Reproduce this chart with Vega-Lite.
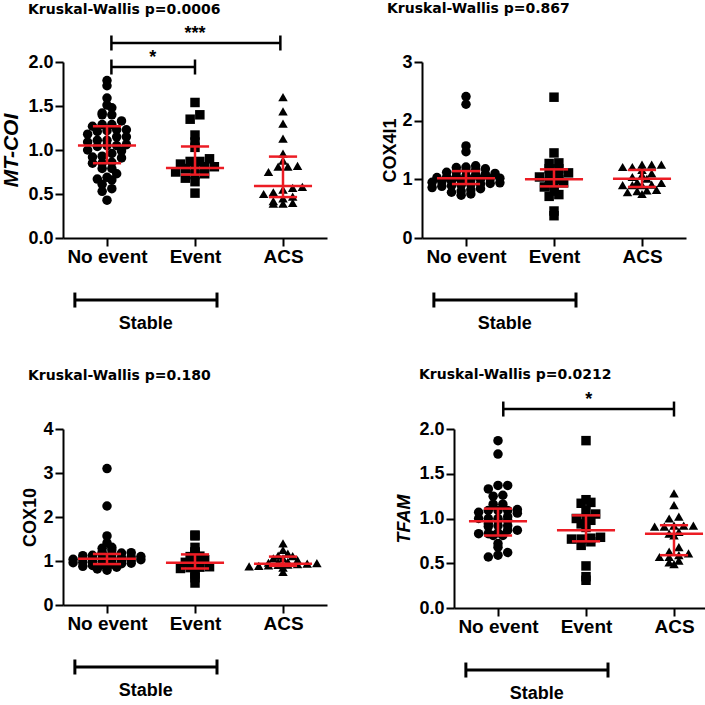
{
"$schema": "https://vega.github.io/schema/vega-lite/v6.json",
"padding": {"left": 0, "top": 2, "right": 0, "bottom": 0},
"background": "white",
"config": {
 "view": {"stroke": null},
 "font": "Liberation Sans",
 "axis": {"grid": false, "domainColor": "black", "domainWidth": 2, "tickColor": "black", "tickWidth": 2, "tickSize": 8, "labelColor": "black", "labelFont": "Liberation Sans", "labelFontWeight": "bold", "labelFontSize": 18, "titleColor": "black", "titleFont": "Liberation Sans", "titleFontWeight": "bold", "titleFontSize": 18, "labelPadding": 2, "titlePadding": 6},
 "axisX": {"labelFontSize": 19, "labelPadding": 1, "labelFlush": false},
 "title": {"font": "DejaVu Sans", "fontSize": 14, "fontWeight": "bold", "color": "black", "anchor": "start", "frame": "group", "dx": -35, "baseline": "bottom"},
 "text": {"font": "Liberation Sans", "fontWeight": "bold", "color": "black"}
},
"datasets": {
"pts": [
{"gene":"MT-COI","group":"No event","v":1.79},{"gene":"MT-COI","group":"No event","v":1.73},{"gene":"MT-COI","group":"No event","v":1.59},{"gene":"MT-COI","group":"No event","v":1.51},{"gene":"MT-COI","group":"No event","v":1.48},{"gene":"MT-COI","group":"No event","v":1.42},{"gene":"MT-COI","group":"No event","v":1.40},{"gene":"MT-COI","group":"No event","v":1.40},{"gene":"MT-COI","group":"No event","v":1.33},{"gene":"MT-COI","group":"No event","v":1.29},{"gene":"MT-COI","group":"No event","v":1.29},{"gene":"MT-COI","group":"No event","v":1.27},{"gene":"MT-COI","group":"No event","v":1.23},{"gene":"MT-COI","group":"No event","v":1.23},{"gene":"MT-COI","group":"No event","v":1.22},{"gene":"MT-COI","group":"No event","v":1.21},{"gene":"MT-COI","group":"No event","v":1.18},{"gene":"MT-COI","group":"No event","v":1.15},{"gene":"MT-COI","group":"No event","v":1.15},{"gene":"MT-COI","group":"No event","v":1.11},{"gene":"MT-COI","group":"No event","v":1.11},{"gene":"MT-COI","group":"No event","v":1.09},{"gene":"MT-COI","group":"No event","v":1.06},{"gene":"MT-COI","group":"No event","v":1.05},{"gene":"MT-COI","group":"No event","v":1.05},{"gene":"MT-COI","group":"No event","v":1.04},{"gene":"MT-COI","group":"No event","v":1.00},{"gene":"MT-COI","group":"No event","v":0.99},{"gene":"MT-COI","group":"No event","v":0.96},{"gene":"MT-COI","group":"No event","v":0.93},{"gene":"MT-COI","group":"No event","v":0.92},{"gene":"MT-COI","group":"No event","v":0.91},{"gene":"MT-COI","group":"No event","v":0.86},{"gene":"MT-COI","group":"No event","v":0.85},{"gene":"MT-COI","group":"No event","v":0.85},{"gene":"MT-COI","group":"No event","v":0.79},{"gene":"MT-COI","group":"No event","v":0.79},{"gene":"MT-COI","group":"No event","v":0.73},{"gene":"MT-COI","group":"No event","v":0.69},{"gene":"MT-COI","group":"No event","v":0.67},{"gene":"MT-COI","group":"No event","v":0.66},{"gene":"MT-COI","group":"No event","v":0.61},{"gene":"MT-COI","group":"No event","v":0.56},{"gene":"MT-COI","group":"No event","v":0.53},{"gene":"MT-COI","group":"No event","v":0.43},
{"gene":"MT-COI","group":"Event","v":1.54},{"gene":"MT-COI","group":"Event","v":1.40},{"gene":"MT-COI","group":"Event","v":1.35},{"gene":"MT-COI","group":"Event","v":1.17},{"gene":"MT-COI","group":"Event","v":1.09},{"gene":"MT-COI","group":"Event","v":1.03},{"gene":"MT-COI","group":"Event","v":0.90},{"gene":"MT-COI","group":"Event","v":0.87},{"gene":"MT-COI","group":"Event","v":0.87},{"gene":"MT-COI","group":"Event","v":0.84},{"gene":"MT-COI","group":"Event","v":0.81},{"gene":"MT-COI","group":"Event","v":0.81},{"gene":"MT-COI","group":"Event","v":0.79},{"gene":"MT-COI","group":"Event","v":0.79},{"gene":"MT-COI","group":"Event","v":0.75},{"gene":"MT-COI","group":"Event","v":0.73},{"gene":"MT-COI","group":"Event","v":0.72},{"gene":"MT-COI","group":"Event","v":0.68},{"gene":"MT-COI","group":"Event","v":0.64},{"gene":"MT-COI","group":"Event","v":0.51},
{"gene":"MT-COI","group":"ACS","v":1.60},{"gene":"MT-COI","group":"ACS","v":1.44},{"gene":"MT-COI","group":"ACS","v":1.30},{"gene":"MT-COI","group":"ACS","v":1.13},{"gene":"MT-COI","group":"ACS","v":0.96},{"gene":"MT-COI","group":"ACS","v":0.88},{"gene":"MT-COI","group":"ACS","v":0.82},{"gene":"MT-COI","group":"ACS","v":0.81},{"gene":"MT-COI","group":"ACS","v":0.81},{"gene":"MT-COI","group":"ACS","v":0.75},{"gene":"MT-COI","group":"ACS","v":0.58},{"gene":"MT-COI","group":"ACS","v":0.57},{"gene":"MT-COI","group":"ACS","v":0.55},{"gene":"MT-COI","group":"ACS","v":0.52},{"gene":"MT-COI","group":"ACS","v":0.50},{"gene":"MT-COI","group":"ACS","v":0.47},{"gene":"MT-COI","group":"ACS","v":0.45},{"gene":"MT-COI","group":"ACS","v":0.42},{"gene":"MT-COI","group":"ACS","v":0.40},{"gene":"MT-COI","group":"ACS","v":0.39},{"gene":"MT-COI","group":"ACS","v":0.39},
{"gene":"COX4I1","group":"No event","v":2.41},{"gene":"COX4I1","group":"No event","v":2.28},{"gene":"COX4I1","group":"No event","v":1.57},{"gene":"COX4I1","group":"No event","v":1.47},{"gene":"COX4I1","group":"No event","v":1.23},{"gene":"COX4I1","group":"No event","v":1.21},{"gene":"COX4I1","group":"No event","v":1.20},{"gene":"COX4I1","group":"No event","v":1.18},{"gene":"COX4I1","group":"No event","v":1.16},{"gene":"COX4I1","group":"No event","v":1.15},{"gene":"COX4I1","group":"No event","v":1.13},{"gene":"COX4I1","group":"No event","v":1.12},{"gene":"COX4I1","group":"No event","v":1.10},{"gene":"COX4I1","group":"No event","v":1.09},{"gene":"COX4I1","group":"No event","v":1.08},{"gene":"COX4I1","group":"No event","v":1.06},{"gene":"COX4I1","group":"No event","v":1.05},{"gene":"COX4I1","group":"No event","v":1.04},{"gene":"COX4I1","group":"No event","v":1.03},{"gene":"COX4I1","group":"No event","v":1.02},{"gene":"COX4I1","group":"No event","v":1.01},{"gene":"COX4I1","group":"No event","v":1.00},{"gene":"COX4I1","group":"No event","v":0.99},{"gene":"COX4I1","group":"No event","v":0.98},{"gene":"COX4I1","group":"No event","v":0.97},{"gene":"COX4I1","group":"No event","v":0.96},{"gene":"COX4I1","group":"No event","v":0.95},{"gene":"COX4I1","group":"No event","v":0.94},{"gene":"COX4I1","group":"No event","v":0.93},{"gene":"COX4I1","group":"No event","v":0.92},{"gene":"COX4I1","group":"No event","v":0.91},{"gene":"COX4I1","group":"No event","v":0.90},{"gene":"COX4I1","group":"No event","v":0.89},{"gene":"COX4I1","group":"No event","v":0.88},{"gene":"COX4I1","group":"No event","v":0.86},{"gene":"COX4I1","group":"No event","v":0.84},{"gene":"COX4I1","group":"No event","v":0.82},{"gene":"COX4I1","group":"No event","v":0.80},{"gene":"COX4I1","group":"No event","v":0.78},{"gene":"COX4I1","group":"No event","v":0.75},{"gene":"COX4I1","group":"No event","v":0.73},
{"gene":"COX4I1","group":"Event","v":2.40},{"gene":"COX4I1","group":"Event","v":1.45},{"gene":"COX4I1","group":"Event","v":1.28},{"gene":"COX4I1","group":"Event","v":1.27},{"gene":"COX4I1","group":"Event","v":1.18},{"gene":"COX4I1","group":"Event","v":1.18},{"gene":"COX4I1","group":"Event","v":1.11},{"gene":"COX4I1","group":"Event","v":1.10},{"gene":"COX4I1","group":"Event","v":1.05},{"gene":"COX4I1","group":"Event","v":1.04},{"gene":"COX4I1","group":"Event","v":1.00},{"gene":"COX4I1","group":"Event","v":0.95},{"gene":"COX4I1","group":"Event","v":0.94},{"gene":"COX4I1","group":"Event","v":0.89},{"gene":"COX4I1","group":"Event","v":0.87},{"gene":"COX4I1","group":"Event","v":0.80},{"gene":"COX4I1","group":"Event","v":0.74},{"gene":"COX4I1","group":"Event","v":0.71},{"gene":"COX4I1","group":"Event","v":0.46},{"gene":"COX4I1","group":"Event","v":0.38},
{"gene":"COX4I1","group":"ACS","v":1.25},{"gene":"COX4I1","group":"ACS","v":1.25},{"gene":"COX4I1","group":"ACS","v":1.25},{"gene":"COX4I1","group":"ACS","v":1.21},{"gene":"COX4I1","group":"ACS","v":1.21},{"gene":"COX4I1","group":"ACS","v":1.16},{"gene":"COX4I1","group":"ACS","v":1.10},{"gene":"COX4I1","group":"ACS","v":1.07},{"gene":"COX4I1","group":"ACS","v":1.04},{"gene":"COX4I1","group":"ACS","v":1.01},{"gene":"COX4I1","group":"ACS","v":0.95},{"gene":"COX4I1","group":"ACS","v":0.94},{"gene":"COX4I1","group":"ACS","v":0.91},{"gene":"COX4I1","group":"ACS","v":0.90},{"gene":"COX4I1","group":"ACS","v":0.90},{"gene":"COX4I1","group":"ACS","v":0.90},{"gene":"COX4I1","group":"ACS","v":0.82},{"gene":"COX4I1","group":"ACS","v":0.81},{"gene":"COX4I1","group":"ACS","v":0.80},{"gene":"COX4I1","group":"ACS","v":0.78},{"gene":"COX4I1","group":"ACS","v":0.75},
{"gene":"COX10","group":"No event","v":3.10},{"gene":"COX10","group":"No event","v":2.25},{"gene":"COX10","group":"No event","v":1.57},{"gene":"COX10","group":"No event","v":1.41},{"gene":"COX10","group":"No event","v":1.31},{"gene":"COX10","group":"No event","v":1.29},{"gene":"COX10","group":"No event","v":1.25},{"gene":"COX10","group":"No event","v":1.20},{"gene":"COX10","group":"No event","v":1.19},{"gene":"COX10","group":"No event","v":1.18},{"gene":"COX10","group":"No event","v":1.16},{"gene":"COX10","group":"No event","v":1.15},{"gene":"COX10","group":"No event","v":1.13},{"gene":"COX10","group":"No event","v":1.12},{"gene":"COX10","group":"No event","v":1.10},{"gene":"COX10","group":"No event","v":1.09},{"gene":"COX10","group":"No event","v":1.08},{"gene":"COX10","group":"No event","v":1.07},{"gene":"COX10","group":"No event","v":1.06},{"gene":"COX10","group":"No event","v":1.05},{"gene":"COX10","group":"No event","v":1.05},{"gene":"COX10","group":"No event","v":1.04},{"gene":"COX10","group":"No event","v":1.03},{"gene":"COX10","group":"No event","v":1.02},{"gene":"COX10","group":"No event","v":1.01},{"gene":"COX10","group":"No event","v":1.00},{"gene":"COX10","group":"No event","v":0.99},{"gene":"COX10","group":"No event","v":0.98},{"gene":"COX10","group":"No event","v":0.97},{"gene":"COX10","group":"No event","v":0.96},{"gene":"COX10","group":"No event","v":0.95},{"gene":"COX10","group":"No event","v":0.94},{"gene":"COX10","group":"No event","v":0.93},{"gene":"COX10","group":"No event","v":0.92},{"gene":"COX10","group":"No event","v":0.90},{"gene":"COX10","group":"No event","v":0.88},{"gene":"COX10","group":"No event","v":0.86},{"gene":"COX10","group":"No event","v":0.84},{"gene":"COX10","group":"No event","v":0.82},{"gene":"COX10","group":"No event","v":0.79},
{"gene":"COX10","group":"Event","v":1.59},{"gene":"COX10","group":"Event","v":1.57},{"gene":"COX10","group":"Event","v":1.31},{"gene":"COX10","group":"Event","v":1.21},{"gene":"COX10","group":"Event","v":1.19},{"gene":"COX10","group":"Event","v":1.11},{"gene":"COX10","group":"Event","v":1.10},{"gene":"COX10","group":"Event","v":1.03},{"gene":"COX10","group":"Event","v":0.98},{"gene":"COX10","group":"Event","v":0.97},{"gene":"COX10","group":"Event","v":0.95},{"gene":"COX10","group":"Event","v":0.91},{"gene":"COX10","group":"Event","v":0.87},{"gene":"COX10","group":"Event","v":0.86},{"gene":"COX10","group":"Event","v":0.85},{"gene":"COX10","group":"Event","v":0.83},{"gene":"COX10","group":"Event","v":0.72},{"gene":"COX10","group":"Event","v":0.70},{"gene":"COX10","group":"Event","v":0.62},{"gene":"COX10","group":"Event","v":0.50},
{"gene":"COX10","group":"ACS","v":1.40},{"gene":"COX10","group":"ACS","v":1.25},{"gene":"COX10","group":"ACS","v":1.17},{"gene":"COX10","group":"ACS","v":1.12},{"gene":"COX10","group":"ACS","v":1.11},{"gene":"COX10","group":"ACS","v":1.06},{"gene":"COX10","group":"ACS","v":1.06},{"gene":"COX10","group":"ACS","v":1.02},{"gene":"COX10","group":"ACS","v":0.98},{"gene":"COX10","group":"ACS","v":0.97},{"gene":"COX10","group":"ACS","v":0.96},{"gene":"COX10","group":"ACS","v":0.95},{"gene":"COX10","group":"ACS","v":0.94},{"gene":"COX10","group":"ACS","v":0.93},{"gene":"COX10","group":"ACS","v":0.92},{"gene":"COX10","group":"ACS","v":0.91},{"gene":"COX10","group":"ACS","v":0.90},{"gene":"COX10","group":"ACS","v":0.89},{"gene":"COX10","group":"ACS","v":0.88},{"gene":"COX10","group":"ACS","v":0.85},{"gene":"COX10","group":"ACS","v":0.75},
{"gene":"TFAM","group":"No event","v":1.87},{"gene":"TFAM","group":"No event","v":1.72},{"gene":"TFAM","group":"No event","v":1.37},{"gene":"TFAM","group":"No event","v":1.37},{"gene":"TFAM","group":"No event","v":1.33},{"gene":"TFAM","group":"No event","v":1.26},{"gene":"TFAM","group":"No event","v":1.25},{"gene":"TFAM","group":"No event","v":1.16},{"gene":"TFAM","group":"No event","v":1.16},{"gene":"TFAM","group":"No event","v":1.10},{"gene":"TFAM","group":"No event","v":1.09},{"gene":"TFAM","group":"No event","v":1.09},{"gene":"TFAM","group":"No event","v":1.09},{"gene":"TFAM","group":"No event","v":1.07},{"gene":"TFAM","group":"No event","v":1.06},{"gene":"TFAM","group":"No event","v":1.02},{"gene":"TFAM","group":"No event","v":1.00},{"gene":"TFAM","group":"No event","v":1.00},{"gene":"TFAM","group":"No event","v":1.00},{"gene":"TFAM","group":"No event","v":0.98},{"gene":"TFAM","group":"No event","v":0.98},{"gene":"TFAM","group":"No event","v":0.94},{"gene":"TFAM","group":"No event","v":0.92},{"gene":"TFAM","group":"No event","v":0.92},{"gene":"TFAM","group":"No event","v":0.91},{"gene":"TFAM","group":"No event","v":0.87},{"gene":"TFAM","group":"No event","v":0.87},{"gene":"TFAM","group":"No event","v":0.84},{"gene":"TFAM","group":"No event","v":0.83},{"gene":"TFAM","group":"No event","v":0.83},{"gene":"TFAM","group":"No event","v":0.81},{"gene":"TFAM","group":"No event","v":0.81},{"gene":"TFAM","group":"No event","v":0.72},{"gene":"TFAM","group":"No event","v":0.68},{"gene":"TFAM","group":"No event","v":0.62},{"gene":"TFAM","group":"No event","v":0.59},{"gene":"TFAM","group":"No event","v":0.57},
{"gene":"TFAM","group":"Event","v":1.87},{"gene":"TFAM","group":"Event","v":1.21},{"gene":"TFAM","group":"Event","v":1.18},{"gene":"TFAM","group":"Event","v":1.17},{"gene":"TFAM","group":"Event","v":1.09},{"gene":"TFAM","group":"Event","v":1.05},{"gene":"TFAM","group":"Event","v":1.00},{"gene":"TFAM","group":"Event","v":1.00},{"gene":"TFAM","group":"Event","v":0.98},{"gene":"TFAM","group":"Event","v":0.94},{"gene":"TFAM","group":"Event","v":0.90},{"gene":"TFAM","group":"Event","v":0.79},{"gene":"TFAM","group":"Event","v":0.78},{"gene":"TFAM","group":"Event","v":0.77},{"gene":"TFAM","group":"Event","v":0.77},{"gene":"TFAM","group":"Event","v":0.74},{"gene":"TFAM","group":"Event","v":0.70},{"gene":"TFAM","group":"Event","v":0.47},{"gene":"TFAM","group":"Event","v":0.35},{"gene":"TFAM","group":"Event","v":0.31},
{"gene":"TFAM","group":"ACS","v":1.28},{"gene":"TFAM","group":"ACS","v":1.15},{"gene":"TFAM","group":"ACS","v":1.02},{"gene":"TFAM","group":"ACS","v":1.00},{"gene":"TFAM","group":"ACS","v":0.92},{"gene":"TFAM","group":"ACS","v":0.92},{"gene":"TFAM","group":"ACS","v":0.92},{"gene":"TFAM","group":"ACS","v":0.91},{"gene":"TFAM","group":"ACS","v":0.91},{"gene":"TFAM","group":"ACS","v":0.85},{"gene":"TFAM","group":"ACS","v":0.83},{"gene":"TFAM","group":"ACS","v":0.81},{"gene":"TFAM","group":"ACS","v":0.68},{"gene":"TFAM","group":"ACS","v":0.63},{"gene":"TFAM","group":"ACS","v":0.61},{"gene":"TFAM","group":"ACS","v":0.59},{"gene":"TFAM","group":"ACS","v":0.57},{"gene":"TFAM","group":"ACS","v":0.57},{"gene":"TFAM","group":"ACS","v":0.53},{"gene":"TFAM","group":"ACS","v":0.51},{"gene":"TFAM","group":"ACS","v":0.49}
],
"stats": [
{"gene":"MT-COI","group":"No event","med":1.05,"q1":0.85,"q3":1.27},
{"gene":"MT-COI","group":"Event","med":0.795,"q1":0.72,"q3":1.04},
{"gene":"MT-COI","group":"ACS","med":0.59,"q1":0.465,"q3":0.925},
{"gene":"COX4I1","group":"No event","med":1.02,"q1":0.92,"q3":1.14},
{"gene":"COX4I1","group":"Event","med":1.0,"q1":0.88,"q3":1.17},
{"gene":"COX4I1","group":"ACS","med":1.01,"q1":0.87,"q3":1.16},
{"gene":"COX10","group":"No event","med":1.05,"q1":0.93,"q3":1.16},
{"gene":"COX10","group":"Event","med":0.96,"q1":0.83,"q3":1.15},
{"gene":"COX10","group":"ACS","med":0.94,"q1":0.89,"q3":1.10},
{"gene":"TFAM","group":"No event","med":0.97,"q1":0.81,"q3":1.11},
{"gene":"TFAM","group":"Event","med":0.87,"q1":0.745,"q3":1.035},
{"gene":"TFAM","group":"ACS","med":0.83,"q1":0.59,"q3":0.925}
]
},
"spacing": 34,
"vconcat": [
{"hconcat": [
{"width": 264, "height": 176,
 "title": {"text": "Kruskal-Wallis p=0.0006", "offset": 8},
 "layer": [
  {"data": {"name": "pts"},
   "transform": [{"filter": "datum.gene === 'MT-COI'"},
    {"calculate": "indexof(['No event','Event','ACS'], datum.group) + 1", "as": "gi"},
    {"calculate": "floor(datum.v * 12)", "as": "bin"},
    {"window": [{"op": "row_number", "as": "r"}, {"op": "count", "as": "n"}], "groupby": ["group", "bin"], "sort": [{"field": "v"}], "frame": [null, null]},
    {"calculate": "datum.gi + (datum.r - (datum.n + 1) / 2) * 0.11", "as": "xp"}],
   "mark": {"type": "point", "filled": true, "size": 90, "opacity": 1, "color": "black"},
   "encoding": {
    "x": {"field": "xp", "type": "quantitative", "scale": {"domain": [0.5, 3.5], "nice": false, "zero": false}, "axis": {"values": [1, 2, 3], "labelExpr": "datum.value == 1 ? 'No event' : datum.value == 2 ? 'Event' : 'ACS'", "title": null}},
    "y": {"field": "v", "type": "quantitative", "scale": {"domain": [0, 2], "nice": false}, "axis": {"values": [0, 0.5, 1, 1.5, 2], "format": ".1f", "title": "MT-COI", "titleFontStyle": "italic", "titleFontSize": 21, "titleX": -42}},
    "shape": {"field": "group", "type": "nominal", "scale": {"domain": ["No event", "Event", "ACS"], "range": ["circle", "square", "triangle-up"]}, "legend": null}}},
  {"data": {"name": "stats"},
   "transform": [{"filter": "datum.gene === 'MT-COI'"}, {"calculate": "indexof(['No event','Event','ACS'], datum.group) + 1", "as": "gi"}],
   "layer": [
    {"transform": [{"calculate": "datum.gi - 0.33", "as": "xa"}, {"calculate": "datum.gi + 0.33", "as": "xb"}],
     "mark": {"type": "rule", "color": "#ec1c24", "strokeWidth": 2.5},
     "encoding": {"x": {"field": "xa", "type": "quantitative", "title": null}, "x2": {"field": "xb"}, "y": {"field": "med", "type": "quantitative"}}},
    {"mark": {"type": "rule", "color": "#ec1c24", "strokeWidth": 2.5},
     "encoding": {"x": {"field": "gi", "type": "quantitative", "title": null}, "y": {"field": "q1", "type": "quantitative"}, "y2": {"field": "q3"}}},
    {"transform": [{"fold": ["q1", "q3"], "as": ["k", "yv"]}, {"calculate": "datum.gi - 0.16", "as": "ca"}, {"calculate": "datum.gi + 0.16", "as": "cb"}],
     "mark": {"type": "rule", "color": "#ec1c24", "strokeWidth": 2.5},
     "encoding": {"x": {"field": "ca", "type": "quantitative", "title": null}, "x2": {"field": "cb"}, "y": {"field": "yv", "type": "quantitative"}}}
   ]},
  {"data": {"values": [{}]},
   "layer": [
    {"mark": {"type": "rule", "color": "black", "strokeWidth": 2.5}, "encoding": {"x": {"datum": 1.05, "type": "quantitative"}, "x2": {"datum": 2.97}, "y": {"datum": 2.216, "type": "quantitative"}}},
    {"mark": {"type": "tick", "orient": "vertical", "size": 15, "thickness": 2.5, "color": "black", "opacity": 1}, "encoding": {"x": {"datum": 1.05, "type": "quantitative"}, "y": {"datum": 2.216, "type": "quantitative"}}},
    {"mark": {"type": "tick", "orient": "vertical", "size": 15, "thickness": 2.5, "color": "black", "opacity": 1}, "encoding": {"x": {"datum": 2.97, "type": "quantitative"}, "y": {"datum": 2.216, "type": "quantitative"}}},
    {"mark": {"type": "text", "fontSize": 18, "baseline": "alphabetic", "align": "center", "dy": -4}, "encoding": {"x": {"datum": 2.0, "type": "quantitative"}, "y": {"datum": 2.216, "type": "quantitative"}, "text": {"value": "***"}}},
    {"mark": {"type": "rule", "color": "black", "strokeWidth": 2.5}, "encoding": {"x": {"datum": 1.05, "type": "quantitative"}, "x2": {"datum": 2.0}, "y": {"datum": 1.943, "type": "quantitative"}}},
    {"mark": {"type": "tick", "orient": "vertical", "size": 15, "thickness": 2.5, "color": "black", "opacity": 1}, "encoding": {"x": {"datum": 1.05, "type": "quantitative"}, "y": {"datum": 1.943, "type": "quantitative"}}},
    {"mark": {"type": "tick", "orient": "vertical", "size": 15, "thickness": 2.5, "color": "black", "opacity": 1}, "encoding": {"x": {"datum": 2.0, "type": "quantitative"}, "y": {"datum": 1.943, "type": "quantitative"}}},
    {"mark": {"type": "text", "fontSize": 18, "baseline": "alphabetic", "align": "center", "dy": -4}, "encoding": {"x": {"datum": 1.52, "type": "quantitative"}, "y": {"datum": 1.943, "type": "quantitative"}, "text": {"value": "*"}}},
    {"mark": {"type": "rule", "color": "black", "strokeWidth": 3}, "encoding": {"x": {"datum": 0.635, "type": "quantitative"}, "x2": {"datum": 2.25}, "y": {"datum": -0.705, "type": "quantitative"}}},
    {"mark": {"type": "tick", "orient": "vertical", "size": 15, "thickness": 3, "color": "black", "opacity": 1}, "encoding": {"x": {"datum": 0.635, "type": "quantitative"}, "y": {"datum": -0.705, "type": "quantitative"}}},
    {"mark": {"type": "tick", "orient": "vertical", "size": 15, "thickness": 3, "color": "black", "opacity": 1}, "encoding": {"x": {"datum": 2.25, "type": "quantitative"}, "y": {"datum": -0.705, "type": "quantitative"}}},
    {"mark": {"type": "text", "fontSize": 18, "baseline": "middle", "align": "center"}, "encoding": {"x": {"datum": 1.44, "type": "quantitative"}, "y": {"datum": -0.977, "type": "quantitative"}, "text": {"value": "Stable"}}}
   ]}
 ]},
{"width": 264, "height": 176,
 "title": {"text": "Kruskal-Wallis p=0.867", "offset": 37},
 "layer": [
  {"data": {"name": "pts"},
   "transform": [{"filter": "datum.gene === 'COX4I1'"},
    {"calculate": "indexof(['No event','Event','ACS'], datum.group) + 1", "as": "gi"},
    {"calculate": "floor(datum.v * 11.7)", "as": "bin"},
    {"window": [{"op": "row_number", "as": "r"}, {"op": "count", "as": "n"}], "groupby": ["group", "bin"], "sort": [{"field": "v"}], "frame": [null, null]},
    {"calculate": "datum.gi + (datum.r - (datum.n + 1) / 2) * 0.11", "as": "xp"}],
   "mark": {"type": "point", "filled": true, "size": 90, "opacity": 1, "color": "black"},
   "encoding": {
    "x": {"field": "xp", "type": "quantitative", "scale": {"domain": [0.5, 3.5], "nice": false, "zero": false}, "axis": {"values": [1, 2, 3], "labelExpr": "datum.value == 1 ? 'No event' : datum.value == 2 ? 'Event' : 'ACS'", "title": null}},
    "y": {"field": "v", "type": "quantitative", "scale": {"domain": [0, 3], "nice": false}, "axis": {"values": [0, 1, 2, 3], "format": "d", "title": "COX4I1", "titleX": -23}},
    "shape": {"field": "group", "type": "nominal", "scale": {"domain": ["No event", "Event", "ACS"], "range": ["circle", "square", "triangle-up"]}, "legend": null}}},
  {"data": {"name": "stats"},
   "transform": [{"filter": "datum.gene === 'COX4I1'"}, {"calculate": "indexof(['No event','Event','ACS'], datum.group) + 1", "as": "gi"}],
   "layer": [
    {"transform": [{"calculate": "datum.gi - 0.33", "as": "xa"}, {"calculate": "datum.gi + 0.33", "as": "xb"}],
     "mark": {"type": "rule", "color": "#ec1c24", "strokeWidth": 2.5},
     "encoding": {"x": {"field": "xa", "type": "quantitative", "title": null}, "x2": {"field": "xb"}, "y": {"field": "med", "type": "quantitative"}}},
    {"mark": {"type": "rule", "color": "#ec1c24", "strokeWidth": 2.5},
     "encoding": {"x": {"field": "gi", "type": "quantitative", "title": null}, "y": {"field": "q1", "type": "quantitative"}, "y2": {"field": "q3"}}},
    {"transform": [{"fold": ["q1", "q3"], "as": ["k", "yv"]}, {"calculate": "datum.gi - 0.16", "as": "ca"}, {"calculate": "datum.gi + 0.16", "as": "cb"}],
     "mark": {"type": "rule", "color": "#ec1c24", "strokeWidth": 2.5},
     "encoding": {"x": {"field": "ca", "type": "quantitative", "title": null}, "x2": {"field": "cb"}, "y": {"field": "yv", "type": "quantitative"}}}
   ]},
  {"data": {"values": [{}]},
   "layer": [
    {"mark": {"type": "rule", "color": "black", "strokeWidth": 3}, "encoding": {"x": {"datum": 0.635, "type": "quantitative"}, "x2": {"datum": 2.25}, "y": {"datum": -1.057, "type": "quantitative"}}},
    {"mark": {"type": "tick", "orient": "vertical", "size": 15, "thickness": 3, "color": "black", "opacity": 1}, "encoding": {"x": {"datum": 0.635, "type": "quantitative"}, "y": {"datum": -1.057, "type": "quantitative"}}},
    {"mark": {"type": "tick", "orient": "vertical", "size": 15, "thickness": 3, "color": "black", "opacity": 1}, "encoding": {"x": {"datum": 2.25, "type": "quantitative"}, "y": {"datum": -1.057, "type": "quantitative"}}},
    {"mark": {"type": "text", "fontSize": 18, "baseline": "middle", "align": "center"}, "encoding": {"x": {"datum": 1.44, "type": "quantitative"}, "y": {"datum": -1.466, "type": "quantitative"}, "text": {"value": "Stable"}}}
   ]}
 ]}
], "spacing": 54},
{"hconcat": [
{"vconcat": [
{"width": 264, "height": 176,
 "title": {"text": "Kruskal-Wallis p=0.180", "offset": 37},
 "layer": [
  {"data": {"name": "pts"},
   "transform": [{"filter": "datum.gene === 'COX10'"},
    {"calculate": "indexof(['No event','Event','ACS'], datum.group) + 1", "as": "gi"},
    {"calculate": "floor(datum.v * 12.6)", "as": "bin"},
    {"window": [{"op": "row_number", "as": "r"}, {"op": "count", "as": "n"}], "groupby": ["group", "bin"], "sort": [{"field": "v"}], "frame": [null, null]},
    {"calculate": "datum.gi + (datum.r - (datum.n + 1) / 2) * 0.11", "as": "xp"}],
   "mark": {"type": "point", "filled": true, "size": 90, "opacity": 1, "color": "black"},
   "encoding": {
    "x": {"field": "xp", "type": "quantitative", "scale": {"domain": [0.5, 3.5], "nice": false, "zero": false}, "axis": {"values": [1, 2, 3], "labelExpr": "datum.value == 1 ? 'No event' : datum.value == 2 ? 'Event' : 'ACS'", "title": null}},
    "y": {"field": "v", "type": "quantitative", "scale": {"domain": [0, 4], "nice": false}, "axis": {"values": [0, 1, 2, 3, 4], "format": "d", "title": "COX10", "titleX": -24}},
    "shape": {"field": "group", "type": "nominal", "scale": {"domain": ["No event", "Event", "ACS"], "range": ["circle", "square", "triangle-up"]}, "legend": null}}},
  {"data": {"name": "stats"},
   "transform": [{"filter": "datum.gene === 'COX10'"}, {"calculate": "indexof(['No event','Event','ACS'], datum.group) + 1", "as": "gi"}],
   "layer": [
    {"transform": [{"calculate": "datum.gi - 0.33", "as": "xa"}, {"calculate": "datum.gi + 0.33", "as": "xb"}],
     "mark": {"type": "rule", "color": "#ec1c24", "strokeWidth": 2.5},
     "encoding": {"x": {"field": "xa", "type": "quantitative", "title": null}, "x2": {"field": "xb"}, "y": {"field": "med", "type": "quantitative"}}},
    {"mark": {"type": "rule", "color": "#ec1c24", "strokeWidth": 2.5},
     "encoding": {"x": {"field": "gi", "type": "quantitative", "title": null}, "y": {"field": "q1", "type": "quantitative"}, "y2": {"field": "q3"}}},
    {"transform": [{"fold": ["q1", "q3"], "as": ["k", "yv"]}, {"calculate": "datum.gi - 0.16", "as": "ca"}, {"calculate": "datum.gi + 0.16", "as": "cb"}],
     "mark": {"type": "rule", "color": "#ec1c24", "strokeWidth": 2.5},
     "encoding": {"x": {"field": "ca", "type": "quantitative", "title": null}, "x2": {"field": "cb"}, "y": {"field": "yv", "type": "quantitative"}}}
   ]},
  {"data": {"values": [{}]},
   "layer": [
    {"mark": {"type": "rule", "color": "black", "strokeWidth": 3}, "encoding": {"x": {"datum": 0.635, "type": "quantitative"}, "x2": {"datum": 2.25}, "y": {"datum": -1.409, "type": "quantitative"}}},
    {"mark": {"type": "tick", "orient": "vertical", "size": 15, "thickness": 3, "color": "black", "opacity": 1}, "encoding": {"x": {"datum": 0.635, "type": "quantitative"}, "y": {"datum": -1.409, "type": "quantitative"}}},
    {"mark": {"type": "tick", "orient": "vertical", "size": 15, "thickness": 3, "color": "black", "opacity": 1}, "encoding": {"x": {"datum": 2.25, "type": "quantitative"}, "y": {"datum": -1.409, "type": "quantitative"}}},
    {"mark": {"type": "text", "fontSize": 18, "baseline": "middle", "align": "center"}, "encoding": {"x": {"datum": 1.44, "type": "quantitative"}, "y": {"datum": -1.955, "type": "quantitative"}, "text": {"value": "Stable"}}}
   ]}
 ]}
]},
{"vconcat": [
{"width": 264, "height": 179,
 "title": {"text": "Kruskal-Wallis p=0.0212", "offset": 9},
 "layer": [
  {"data": {"name": "pts"},
   "transform": [{"filter": "datum.gene === 'TFAM'"},
    {"calculate": "indexof(['No event','Event','ACS'], datum.group) + 1", "as": "gi"},
    {"calculate": "floor(datum.v * 16)", "as": "bin"},
    {"window": [{"op": "row_number", "as": "r"}, {"op": "count", "as": "n"}], "groupby": ["group", "bin"], "sort": [{"field": "v"}], "frame": [null, null]},
    {"calculate": "datum.gi + (datum.r - (datum.n + 1) / 2) * 0.11", "as": "xp"}],
   "mark": {"type": "point", "filled": true, "size": 90, "opacity": 1, "color": "black"},
   "encoding": {
    "x": {"field": "xp", "type": "quantitative", "scale": {"domain": [0.5, 3.5], "nice": false, "zero": false}, "axis": {"values": [1, 2, 3], "labelExpr": "datum.value == 1 ? 'No event' : datum.value == 2 ? 'Event' : 'ACS'", "title": null}},
    "y": {"field": "v", "type": "quantitative", "scale": {"domain": [0, 2], "nice": false}, "axis": {"values": [0, 0.5, 1, 1.5, 2], "format": ".1f", "title": "TFAM", "titleFontStyle": "italic", "titleX": -41}},
    "shape": {"field": "group", "type": "nominal", "scale": {"domain": ["No event", "Event", "ACS"], "range": ["circle", "square", "triangle-up"]}, "legend": null}}},
  {"data": {"name": "stats"},
   "transform": [{"filter": "datum.gene === 'TFAM'"}, {"calculate": "indexof(['No event','Event','ACS'], datum.group) + 1", "as": "gi"}],
   "layer": [
    {"transform": [{"calculate": "datum.gi - 0.33", "as": "xa"}, {"calculate": "datum.gi + 0.33", "as": "xb"}],
     "mark": {"type": "rule", "color": "#ec1c24", "strokeWidth": 2.5},
     "encoding": {"x": {"field": "xa", "type": "quantitative", "title": null}, "x2": {"field": "xb"}, "y": {"field": "med", "type": "quantitative"}}},
    {"mark": {"type": "rule", "color": "#ec1c24", "strokeWidth": 2.5},
     "encoding": {"x": {"field": "gi", "type": "quantitative", "title": null}, "y": {"field": "q1", "type": "quantitative"}, "y2": {"field": "q3"}}},
    {"transform": [{"fold": ["q1", "q3"], "as": ["k", "yv"]}, {"calculate": "datum.gi - 0.16", "as": "ca"}, {"calculate": "datum.gi + 0.16", "as": "cb"}],
     "mark": {"type": "rule", "color": "#ec1c24", "strokeWidth": 2.5},
     "encoding": {"x": {"field": "ca", "type": "quantitative", "title": null}, "x2": {"field": "cb"}, "y": {"field": "yv", "type": "quantitative"}}}
   ]},
  {"data": {"values": [{}]},
   "layer": [
    {"mark": {"type": "rule", "color": "black", "strokeWidth": 2.5}, "encoding": {"x": {"datum": 1.06, "type": "quantitative"}, "x2": {"datum": 3.0}, "y": {"datum": 2.223, "type": "quantitative"}}},
    {"mark": {"type": "tick", "orient": "vertical", "size": 15, "thickness": 2.5, "color": "black", "opacity": 1}, "encoding": {"x": {"datum": 1.06, "type": "quantitative"}, "y": {"datum": 2.223, "type": "quantitative"}}},
    {"mark": {"type": "tick", "orient": "vertical", "size": 15, "thickness": 2.5, "color": "black", "opacity": 1}, "encoding": {"x": {"datum": 3.0, "type": "quantitative"}, "y": {"datum": 2.223, "type": "quantitative"}}},
    {"mark": {"type": "text", "fontSize": 18, "baseline": "alphabetic", "align": "center", "dy": -4}, "encoding": {"x": {"datum": 2.03, "type": "quantitative"}, "y": {"datum": 2.223, "type": "quantitative"}, "text": {"value": "*"}}},
    {"mark": {"type": "rule", "color": "black", "strokeWidth": 3}, "encoding": {"x": {"datum": 0.635, "type": "quantitative"}, "x2": {"datum": 2.25}, "y": {"datum": -0.693, "type": "quantitative"}}},
    {"mark": {"type": "tick", "orient": "vertical", "size": 15, "thickness": 3, "color": "black", "opacity": 1}, "encoding": {"x": {"datum": 0.635, "type": "quantitative"}, "y": {"datum": -0.693, "type": "quantitative"}}},
    {"mark": {"type": "tick", "orient": "vertical", "size": 15, "thickness": 3, "color": "black", "opacity": 1}, "encoding": {"x": {"datum": 2.25, "type": "quantitative"}, "y": {"datum": -0.693, "type": "quantitative"}}},
    {"mark": {"type": "text", "fontSize": 18, "baseline": "middle", "align": "center"}, "encoding": {"x": {"datum": 1.44, "type": "quantitative"}, "y": {"datum": -0.961, "type": "quantitative"}, "text": {"value": "Stable"}}}
   ]}
 ]}
]}
], "spacing": 68}
]
}
